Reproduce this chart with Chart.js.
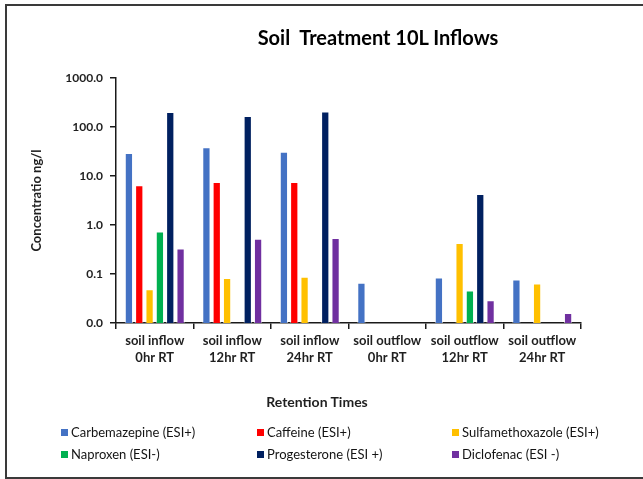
<!DOCTYPE html>
<html>
<head>
<meta charset="utf-8">
<script src="https://cdn.jsdelivr.net/npm/chart.js@4/dist/chart.umd.min.js"></script>
<style>
  html, body { margin: 0; padding: 0; background: #fff; }
  body { width: 643px; height: 479px; position: relative; overflow: hidden; font-family: Lato, "Open Sans", sans-serif; color: #262626; }
  #frame { position: absolute; left: 5px; top: 4px; width: 660px; height: 471px; border: 2px solid #3a3a3a; border-right: none; }
  #wrap { position: absolute; left: 0; top: 0; width: 643px; height: 479px; }
  #title { position: absolute; left: 378px; top: 25px; transform: translateX(-50%); font-weight: bold; font-size: 20px; white-space: nowrap; color: #000; }
  #xtitle { position: absolute; left: 317px; top: 393px; transform: translateX(-50%); font-weight: bold; font-size: 14px; white-space: nowrap; color: #1f1f1f; }
  .leg { position: absolute; font-size: 13px; white-space: nowrap; line-height: 16px; color: #141414; }
  .leg span.sw { display: inline-block; width: 7px; height: 7px; margin-right: 3px; vertical-align: 1px; }
</style>
</head>
<body>
<div id="frame"></div>
<div id="wrap"><canvas id="chart" width="643" height="479"></canvas></div>
<div id="title">Soil&nbsp; Treatment 10L Inflows</div>
<div id="xtitle">Retention Times</div>
<div id="legend"></div>
<script>
// categories (retention times)
var categories = [
    ['soil inflow', '0hr RT'],
    ['soil inflow', '12hr RT'],
    ['soil inflow', '24hr RT'],
    ['soil outflow', '0hr RT'],
    ['soil outflow', '12hr RT'],
    ['soil outflow', '24hr RT']
];

// series values, ng/l (null = not detected)
var carbemazepine = [29.5, 38.4, 31.3, 0.066, 0.085, 0.077];
var caffeine      = [6.5, 7.5, 7.5, null, null, null];
var sulfa         = [0.049, 0.083, 0.088, null, 0.43, 0.064];
var naproxen      = [0.74, null, null, null, 0.046, null];
var progesterone  = [202, 168, 208, null, 4.3, null];
var diclofenac    = [0.33, 0.525, 0.54, null, 0.029, 0.016];

var seriesNames = ['Carbemazepine (ESI+)', 'Caffeine (ESI+)', 'Sulfamethoxazole (ESI+)',
                   'Naproxen (ESI-)', 'Progesterone (ESI +)', 'Diclofenac (ESI -)'];
var seriesColors = ['#4472C4', '#FF0000', '#FFC000', '#00B050', '#002060', '#7030A0'];

// y tick labels (log scale)
var yTicks = [0.01, 0.1, 1, 10, 100, 1000];

var allSeries = [carbemazepine, caffeine, sulfa, naproxen, progesterone, diclofenac];
var datasets = [];
for (var i = 0; i < allSeries.length; i++) {
    datasets.push({
        label: seriesNames[i],
        data: allSeries[i],
        backgroundColor: seriesColors[i],
        borderColor: 'rgba(255,255,255,0.6)',
        borderWidth: 1,
        borderSkipped: 'bottom',
        categoryPercentage: 0.8,
        barPercentage: 0.8
    });
}

var context = document.getElementById('chart').getContext('2d');
var myChart = new Chart(context, {
    type: 'bar',
    data: {
        labels: categories,
        datasets: datasets
    },
    options: {
        responsive: false,
        animation: false,
        layout: { padding: { left: 20, right: 62, top: 78, bottom: 0 } },
        plugins: {
            legend: { display: false },
            title: { display: false },
            tooltip: { enabled: false }
        },
        scales: {
            x: {
                type: 'category',
                offset: true,
                afterFit: function(scale) { scale.height = 156; },
                grid: { display: true, offset: true, drawOnChartArea: false, drawTicks: true, tickLength: 6, color: '#1a1a1a', lineWidth: 1.5 },
                border: { display: true, color: '#1a1a1a', width: 1.5 },
                ticks: {
                    color: '#1f1f1f',
                    font: { family: 'Lato', size: 13, weight: 'bold', lineHeight: 1.25 },
                    padding: 4,
                    maxRotation: 0,
                    autoSkip: false
                }
            },
            y: {
                type: 'logarithmic',
                min: 0.01,
                max: 1000,
                afterFit: function(scale) { scale.width = 96; },
                afterBuildTicks: function(scale) {
                    scale.ticks = yTicks.map(function(v) { return { value: v }; });
                },
                grid: { display: true, drawOnChartArea: false, drawTicks: true, tickLength: 6, color: '#1a1a1a', lineWidth: 1.5 },
                border: { display: true, color: '#1a1a1a', width: 1.5 },
                ticks: {
                    color: '#1f1f1f',
                    font: { family: 'Lato', size: 12, weight: 'bold' },
                    padding: 7,
                    callback: function(v) { return Number(v).toFixed(1); }
                },
                title: {
                    display: true,
                    text: 'Concentratio ng/l',
                    color: '#1f1f1f',
                    font: { family: 'Lato', size: 13, weight: 'bold' },
                    padding: { top: 9, bottom: 0 }
                }
            }
        }
    }
});

// legend in three columns, built from the chart datasets
var legX = [61, 257, 452];
var legY = [424, 446];
var legend = document.getElementById('legend');
myChart.data.datasets.forEach(function(ds, i) {
    var d = document.createElement('div');
    d.className = 'leg';
    d.style.left = legX[i % 3] + 'px';
    d.style.top = legY[Math.floor(i / 3)] + 'px';
    d.innerHTML = '<span class="sw" style="background:' + ds.backgroundColor + '"></span>' + ds.label;
    legend.appendChild(d);
});
</script>
</body>
</html>
